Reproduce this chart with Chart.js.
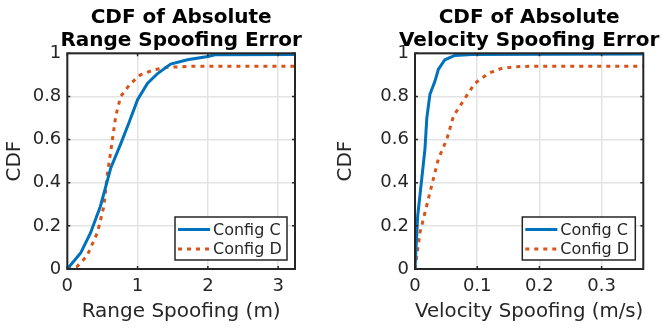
<!DOCTYPE html>
<html>
<head>
<meta charset="utf-8">
<script src="https://cdn.jsdelivr.net/npm/chart.js@4"></script>
<style>
  body { margin: 0; background: #fff; }
  .box { position: absolute; top: 0; width: 331px; height: 331px; }
</style>
</head>
<body>
<div class="box" style="left:0"><canvas id="range"></canvas></div>
<div class="box" style="left:331px"><canvas id="velocity"></canvas></div>
<script>
// ---- data ----
var seriesNames = ['Config C', 'Config D']

var rangeX_C = [0, 0.19, 0.33, 0.47, 0.545, 0.62, 0.76, 0.88, 1.0, 1.14, 1.28, 1.47, 1.71, 2.0, 2.1, 3.24]
var rangeY_C = [0, 0.074, 0.167, 0.29, 0.38, 0.47, 0.58, 0.68, 0.785, 0.86, 0.905, 0.95, 0.97, 0.985, 0.993, 0.995]
var rangeX_D = [0, 0.14, 0.28, 0.43, 0.52, 0.57, 0.62, 0.69, 0.76, 0.9, 1.04, 1.23, 1.42, 1.8, 3.24]
var rangeY_D = [0, 0.012, 0.06, 0.17, 0.29, 0.44, 0.55, 0.71, 0.80, 0.86, 0.90, 0.923, 0.935, 0.94, 0.94]

var velX_C = [0, 0.0043, 0.0096, 0.016, 0.019, 0.024, 0.032, 0.0375, 0.048, 0.064, 0.091, 0.367]
var velY_C = [0, 0.245, 0.385, 0.556, 0.70, 0.81, 0.87, 0.925, 0.97, 0.99, 0.995, 0.997]
var velX_D = [0, 0.008, 0.021, 0.0375, 0.051, 0.062, 0.080, 0.096, 0.118, 0.139, 0.161, 0.187, 0.367]
var velY_D = [0, 0.168, 0.32, 0.51, 0.60, 0.71, 0.79, 0.86, 0.907, 0.93, 0.938, 0.94, 0.94]

var rangeTicks = [0, 1, 2, 3]
var velTicks = [0, 0.1, 0.2, 0.3]
var cdfTicks = [0, 0.2, 0.4, 0.6, 0.8, 1]

var FONT = '"DejaVu Sans", sans-serif'
var BLUE = '#0072BD'
var ORANGE = '#D95319'
var AXIS = '#262626'

function pts(xs, ys) {
  return xs.map(function (x, i) { return { x: x, y: ys[i] } })
}

// titles, box, inward ticks, legend
var decor = {
  id: 'decor',
  afterDraw: function (chart, args, o) {
    var ctx = chart.ctx, a = chart.chartArea
    var cx = (a.left + a.right) / 2
    ctx.save()
    ctx.fillStyle = '#000'
    ctx.font = 'bold 20px ' + FONT
    ctx.textAlign = 'center'
    ctx.textBaseline = 'alphabetic'
    ctx.fillText(o.title[0], cx, 22.7)
    ctx.fillText(o.title[1], cx, 45.7)

    // inward tick marks
    ctx.strokeStyle = AXIS
    ctx.lineWidth = 1.5
    var xs = chart.scales.x, ys = chart.scales.y
    xs.ticks.forEach(function (t) {
      var px = xs.getPixelForValue(t.value)
      ctx.beginPath()
      ctx.moveTo(px, a.bottom); ctx.lineTo(px, a.bottom - 3)
      ctx.moveTo(px, a.top); ctx.lineTo(px, a.top + 3)
      ctx.stroke()
    })
    ys.ticks.forEach(function (t) {
      var py = ys.getPixelForValue(t.value)
      ctx.beginPath()
      ctx.moveTo(a.left, py); ctx.lineTo(a.left + 3, py)
      ctx.moveTo(a.right, py); ctx.lineTo(a.right - 3, py)
      ctx.stroke()
    })

    // box
    ctx.lineWidth = 2
    ctx.strokeRect(a.left, a.top, a.right - a.left, a.bottom - a.top)

    // legend
    var w = o.legendW, h = 43
    var lx = a.right - 8 - w, ly = a.bottom - 9 - h
    ctx.fillStyle = '#fff'
    ctx.fillRect(lx, ly, w, h)
    ctx.lineWidth = 1.5
    ctx.strokeStyle = AXIS
    ctx.strokeRect(lx, ly, w, h)
    var rows = [ly + 12.5, ly + 32]
    chart.data.datasets.forEach(function (ds, i) {
      ctx.beginPath()
      ctx.strokeStyle = ds.borderColor
      ctx.lineWidth = 3
      ctx.setLineDash(ds.borderDash || [])
      ctx.moveTo(lx + 3, rows[i]); ctx.lineTo(lx + 35, rows[i])
      ctx.stroke()
      ctx.setLineDash([])
      ctx.fillStyle = AXIS
      ctx.font = '16px ' + FONT
      ctx.textAlign = 'left'
      ctx.textBaseline = 'middle'
      ctx.fillText(ds.label, lx + 38, rows[i] + 1)
    })
    ctx.restore()
  }
}

function makeChart(id, opts) {
  new Chart(document.getElementById(id), {
    type: 'line',
    data: {
      datasets: [{
        label: seriesNames[0],
        data: pts(opts.xc, opts.yc),
        borderColor: BLUE,
        borderWidth: 3,
        pointRadius: 0,
        tension: 0
      }, {
        label: seriesNames[1],
        data: pts(opts.xd, opts.yd),
        borderColor: ORANGE,
        borderWidth: 3,
        borderDash: [4, 5],
        borderCapStyle: 'butt',
        pointRadius: 0,
        tension: 0
      }]
    },
    plugins: [decor],
    options: {
      responsive: false,
      animation: false,
      devicePixelRatio: 1,
      layout: { padding: { left: 0, right: opts.padRight, top: 53.3, bottom: 0 } },
      plugins: {
        legend: { display: false },
        tooltip: { enabled: false },
        decor: { title: opts.title, legendW: opts.legendW }
      },
      scales: {
        x: {
          type: 'linear',
          min: 0,
          max: opts.xmax,
          afterBuildTicks: function (s) { s.ticks = opts.xticks.map(function (v) { return { value: v } }) },
          afterFit: function (s) { s.height = 62 },
          grid: { color: '#e3e3e3', lineWidth: 1.5, drawTicks: false },
          border: { display: false },
          ticks: { color: AXIS, font: { family: FONT, size: 18 }, padding: 7, maxRotation: 0,
            callback: function (v) { return String(v) } },
          title: { display: true, text: opts.xlabel, color: AXIS, font: { family: FONT, size: 20 },
            padding: { top: 0, bottom: 7 } }
        },
        y: {
          type: 'linear',
          min: 0,
          max: 1,
          afterBuildTicks: function (s) { s.ticks = cdfTicks.map(function (v) { return { value: v } }) },
          afterFit: function (s) { s.width = opts.yw },
          grid: { color: '#e3e3e3', lineWidth: 1.5, drawTicks: false },
          border: { display: false },
          ticks: { color: AXIS, font: { family: FONT, size: 18 }, padding: 6,
            callback: function (v) { return String(v) } },
          title: { display: true, text: 'CDF', color: AXIS, font: { family: FONT, size: 20 },
            padding: { top: 3, bottom: 0 } }
        }
      }
    }
  })
}

var rc = document.getElementById('range'); rc.width = 331; rc.height = 331
var vc = document.getElementById('velocity'); vc.width = 331; vc.height = 331

makeChart('range', {
  xc: rangeX_C, yc: rangeY_C, xd: rangeX_D, yd: rangeY_D,
  xmax: 3.24, xticks: rangeTicks, xlabel: 'Range Spoofing (m)',
  title: ['CDF of Absolute', 'Range Spoofing Error'],
  yw: 67.3, padRight: 36, legendW: 112
})
makeChart('velocity', {
  xc: velX_C, yc: velY_C, xd: velX_D, yd: velY_D,
  xmax: 0.367, xticks: velTicks, xlabel: 'Velocity Spoofing (m/s)',
  title: ['CDF of Absolute', 'Velocity Spoofing Error'],
  yw: 84, padRight: 18.7, legendW: 113
})
</script>
</body>
</html>
